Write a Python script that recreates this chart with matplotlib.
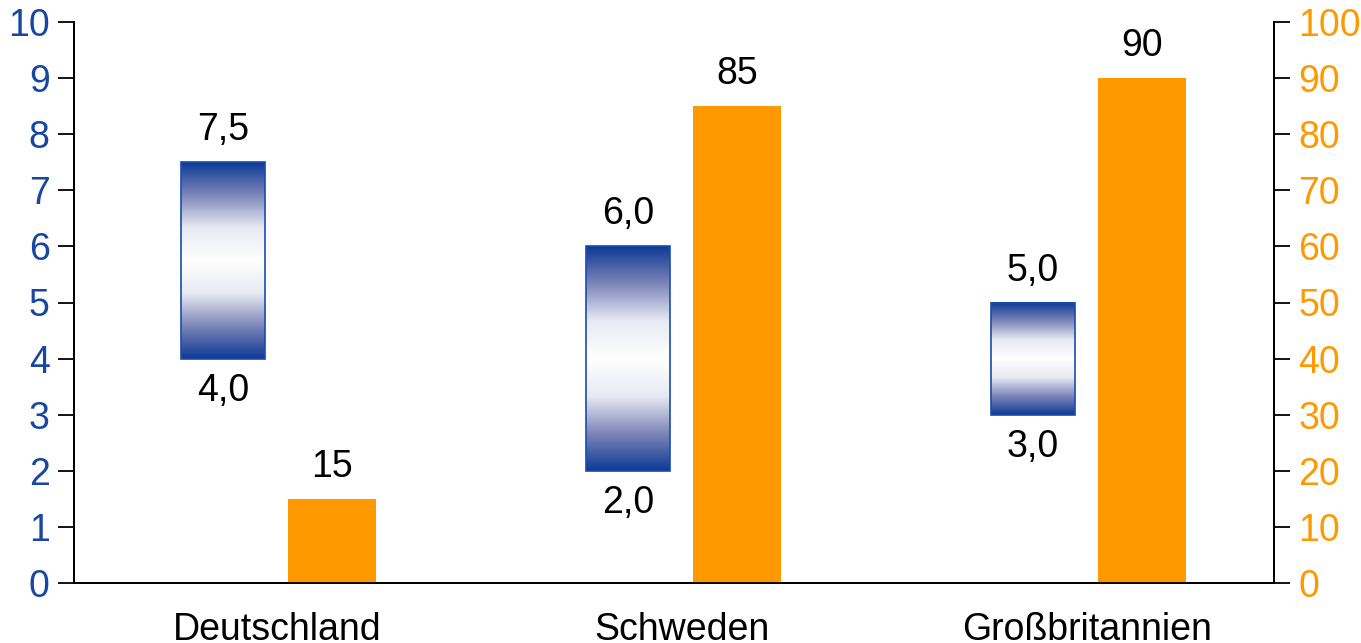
import numpy as np
import matplotlib.pyplot as plt
from matplotlib.colors import LinearSegmentedColormap

plt.rcParams['font.family'] = ['Liberation Sans', 'DejaVu Sans']

laender = ['Deutschland', 'Schweden', 'Großbritannien']
spanne_von = [4.0, 2.0, 3.0]
spanne_bis = [7.5, 6.0, 5.0]
anteil = [15, 85, 90]

blau = '#1747a0'
orange = '#ff9900'
fs = 27

grad = LinearSegmentedColormap.from_list(
    'blauweiss', ['#0d3a96', '#7d86b8', '#e8eaf3', '#ffffff', '#e8eaf3', '#7d86b8', '#0d3a96'])

fig = plt.figure(figsize=(13.61, 6.43), dpi=100)
ax = fig.add_axes([74 / 1361, 60 / 643, 1200 / 1361, 561 / 643])
ax2 = ax.twinx()

x = np.arange(len(laender))
w1, w2 = 0.207, 0.215
off1, off2 = -0.133, 0.136

ax.set_ylim(0, 10)
ax2.set_ylim(0, 100)

verlauf = np.linspace(0, 1, 256).reshape(-1, 1)
for xi, lo, hi in zip(x, spanne_von, spanne_bis):
    l = xi + off1 - w1 / 2
    r = xi + off1 + w1 / 2
    ax.imshow(verlauf, cmap=grad, aspect='auto', extent=[l, r, lo, hi],
              interpolation='bilinear', zorder=2)
    ax.add_patch(plt.Rectangle((l, lo), w1, hi - lo, fill=False,
                               edgecolor='#1a4cb0', linewidth=1.2, zorder=3))
    ax.annotate(f'{hi:.1f}'.replace('.', ','), (xi + off1, hi), xytext=(0, 23),
                textcoords='offset points', ha='center', va='center', fontsize=fs)
    ax.annotate(f'{lo:.1f}'.replace('.', ','), (xi + off1, lo), xytext=(0, -23),
                textcoords='offset points', ha='center', va='center', fontsize=fs)

ax2.bar(x + off2, anteil, width=w2, color=orange, zorder=2)
for xi, v in zip(x, anteil):
    ax2.annotate(str(v), (xi + off2, v), xytext=(0, 23), textcoords='offset points',
                 ha='center', va='center', fontsize=fs)

ax.set_xlim(-0.501, 2.462)
ax.set_xticks(x)
ax.set_xticklabels(laender, fontsize=fs)
ax.tick_params(axis='x', length=0, pad=21)
ax.set_yticks(range(0, 11))
ax.tick_params(axis='y', length=11.5, width=1.3, pad=6, labelsize=fs, labelcolor=blau)
ax2.set_yticks(range(0, 101, 10))
ax2.tick_params(axis='y', length=11.5, width=1.3, pad=6, labelsize=fs, labelcolor=orange)

for a in (ax, ax2):
    a.spines['top'].set_visible(False)
    for s in ('left', 'right', 'bottom'):
        a.spines[s].set_linewidth(1.3)

fig.savefig('out.png', dpi=100)
